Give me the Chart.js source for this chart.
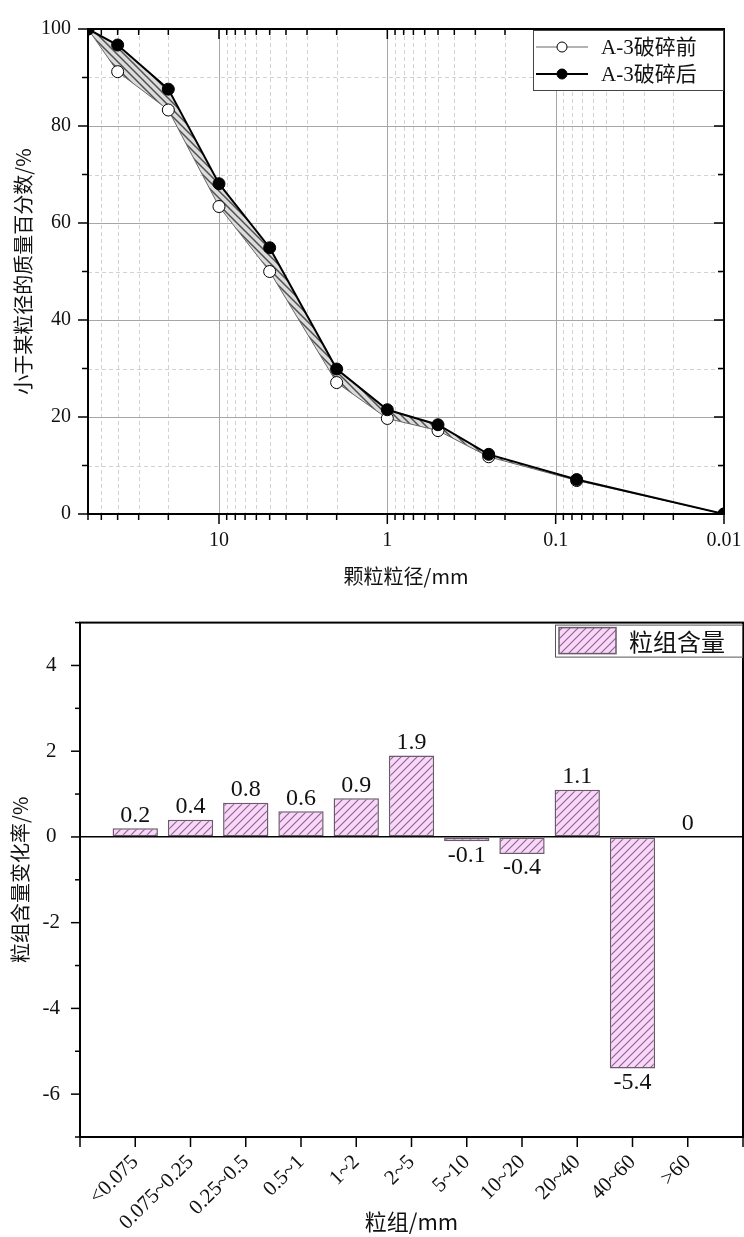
<!DOCTYPE html>
<html>
<head>
<meta charset="utf-8">
<script src="https://cdn.jsdelivr.net/npm/chart.js@4.4.0/dist/chart.umd.min.js"></script>
<style>
  html, body { margin: 0; padding: 0; background: #fff; }
  canvas { display: block; }
</style>
</head>
<body>
<canvas id="gradation" width="744" height="590"></canvas>
<canvas id="groupChange" width="744" height="647"></canvas>
<script>
// grading curve, % passing by particle size (mm)
const sizes = [60, 40, 20, 10, 5, 2, 1, 0.5, 0.25, 0.075, 0.01];
const passBefore = [100, 91.2, 83.3, 63.4, 50.0, 27.1, 19.7, 17.2, 11.8, 6.9, 0];
const passAfter = [100, 96.7, 87.6, 68.1, 54.9, 29.9, 21.5, 18.4, 12.3, 7.1, 0];

// change of each size group (%)
const groups = ['<0.075', '0.075~0.25', '0.25~0.5', '0.5~1', '1~2', '2~5', '5~10', '10~20', '20~40', '40~60', '>60'];
const changeRate = [0.2, 0.4, 0.8, 0.6, 0.9, 1.9, -0.1, -0.4, 1.1, -5.4, 0];

// axis ticks
const xMajor = [10, 1, 0.1, 0.01];
const xMinor = [];
[0.01, 0.1, 1, 10].forEach(d => {
    for (let k = 2; k <= 9; k++) if (d * k < 60) xMinor.push(+(d * k).toPrecision(3));
});
xMinor.push(60);
const yTicksTop = [0, 10, 20, 30, 40, 50, 60, 70, 80, 90, 100];
const yTicksBottom = [-7, -6, -5, -4, -3, -2, -1, 0, 1, 2, 3, 4, 5];

const SERIF = '"Liberation Serif", "Noto Sans CJK SC", serif';
const CJK = '"Noto Sans CJK SC", "Liberation Serif", sans-serif';
const TXT = '#111';

function hatch(ctx, bg, fg, step, lw, back) {
    const c = document.createElement('canvas');
    c.width = c.height = step;
    const g = c.getContext('2d');
    g.fillStyle = bg;
    g.fillRect(0, 0, step, step);
    g.strokeStyle = fg;
    g.lineWidth = lw;
    g.beginPath();
    if (back) {
        g.moveTo(-1, -1); g.lineTo(step + 1, step + 1);
        g.moveTo(-1, step - 1); g.lineTo(1, step + 1);
        g.moveTo(step - 1, -1); g.lineTo(step + 1, 1);
    } else {
        g.moveTo(-1, step + 1); g.lineTo(step + 1, -1);
        g.moveTo(-1, 1); g.lineTo(1, -1);
        g.moveTo(step - 1, step + 1); g.lineTo(step + 1, step - 1);
    }
    g.stroke();
    return ctx.createPattern(c, 'repeat');
}

function tick(ctx, x1, y1, x2, y2) {
    ctx.beginPath();
    ctx.moveTo(x1, y1);
    ctx.lineTo(x2, y2);
    ctx.stroke();
}

// keep the plot edges where the layout padding puts them
function noEdgePadding(s) {
    s.paddingLeft = 0;
    s.paddingRight = 0;
}

const topCtx = document.getElementById('gradation').getContext('2d');
const botCtx = document.getElementById('groupChange').getContext('2d');
const topHatch = hatch(topCtx, '#dcdcdc', '#505050', 7, 1.5, true);
const barHatch = hatch(botCtx, '#fbd6fb', '#8a6a8a', 8, 1.2, false);

const topDecor = {
    id: 'topDecor',
    beforeDraw(chart) {
        const { ctx, chartArea: a, scales: { x, y } } = chart;
        ctx.save();
        ctx.lineWidth = 1;
        ctx.strokeStyle = '#d2d2d2';
        ctx.setLineDash([4, 3]);
        xMinor.forEach(v => {
            const p = Math.round(x.getPixelForValue(v)) + 0.5;
            tick(ctx, p, a.top, p, a.bottom);
        });
        yTicksTop.filter(v => v % 20 !== 0).forEach(v => {
            const p = Math.round(y.getPixelForValue(v)) + 0.5;
            tick(ctx, a.left, p, a.right, p);
        });
        ctx.setLineDash([]);
        ctx.strokeStyle = '#a6a6a6';
        xMajor.forEach(v => {
            const p = Math.round(x.getPixelForValue(v)) + 0.5;
            tick(ctx, p, a.top, p, a.bottom);
        });
        yTicksTop.filter(v => v % 20 === 0).forEach(v => {
            const p = Math.round(y.getPixelForValue(v)) + 0.5;
            tick(ctx, a.left, p, a.right, p);
        });
        ctx.restore();
    },
    afterDraw(chart) {
        const { ctx, chartArea: a, scales: { x, y } } = chart;
        ctx.save();
        ctx.strokeStyle = '#000';
        ctx.lineWidth = 1.5;
        yTicksTop.forEach(v => {
            const p = y.getPixelForValue(v);
            const len = v % 20 === 0 ? 10 : 6;
            tick(ctx, a.left, p, a.left - len, p);
            tick(ctx, a.right, p, a.right - len, p);
        });
        xMajor.concat(xMinor).forEach(v => {
            const p = x.getPixelForValue(v);
            const len = xMajor.includes(v) ? 10 : 6;
            tick(ctx, p, a.bottom, p, a.bottom + len);
            tick(ctx, p, a.top, p, a.top + len);
        });
        ctx.lineWidth = 2;
        ctx.strokeRect(a.left, a.top, a.right - a.left, a.bottom - a.top);

        // legend box
        const w = 191, h = 61;
        const lx = a.right - w, ly = a.top + 1;
        ctx.fillStyle = '#fff';
        ctx.fillRect(lx, ly, w, h);
        ctx.lineWidth = 1;
        ctx.strokeStyle = '#444';
        ctx.strokeRect(lx + 0.5, ly + 0.5, w - 1, h - 1);
        const rows = [
            { text: 'A-3破碎前', line: '#666', lw: 1, fill: '#fff', y: ly + 17 },
            { text: 'A-3破碎后', line: '#000', lw: 2, fill: '#000', y: ly + 44 }
        ];
        rows.forEach(r => {
            ctx.strokeStyle = r.line;
            ctx.lineWidth = r.lw;
            tick(ctx, lx + 3, r.y, lx + 55, r.y);
            ctx.beginPath();
            ctx.arc(lx + 29, r.y, 5, 0, Math.PI * 2);
            ctx.fillStyle = r.fill;
            ctx.fill();
            ctx.strokeStyle = '#000';
            ctx.lineWidth = 1;
            ctx.stroke();
            ctx.fillStyle = TXT;
            ctx.font = '21px ' + SERIF;
            ctx.textBaseline = 'middle';
            ctx.textAlign = 'left';
            ctx.fillText(r.text, lx + 68, r.y + 1);
        });
        ctx.restore();
    }
};

new Chart(topCtx, {
    type: 'line',
    data: {
        datasets: [{
            label: 'A-3破碎后',
            data: sizes.map((s, i) => ({ x: s, y: passAfter[i] })),
            borderColor: '#000',
            borderWidth: 2,
            pointRadius: 6,
            pointBackgroundColor: '#000',
            pointBorderColor: '#000',
            pointBorderWidth: 1,
            fill: '+1',
            backgroundColor: topHatch,
            tension: 0
        }, {
            label: 'A-3破碎前',
            data: sizes.map((s, i) => ({ x: s, y: passBefore[i] })),
            borderColor: '#666',
            borderWidth: 1,
            pointRadius: 6,
            pointBackgroundColor: '#fff',
            pointBorderColor: '#000',
            pointBorderWidth: 1,
            fill: false,
            tension: 0
        }]
    },
    options: {
        responsive: false,
        animation: false,
        layout: { padding: { top: 18, right: 20, left: 0, bottom: 0 } },
        plugins: {
            legend: { display: false },
            tooltip: { enabled: false },
            filler: { drawTime: 'beforeDatasetsDraw' }
        },
        scales: {
            x: {
                type: 'logarithmic',
                min: 0.01,
                max: 60,
                reverse: true,
                grid: { drawOnChartArea: false, drawTicks: false, tickLength: 0 },
                border: { display: false },
                afterBuildTicks: s => { s.ticks = xMajor.map(v => ({ value: v })); },
                afterFit: s => { s.height = 76; noEdgePadding(s); },
                ticks: {
                    autoSkip: false,
                    maxRotation: 0,
                    padding: 15,
                    color: TXT,
                    font: { family: SERIF, size: 20 },
                    callback: v => String(v)
                },
                title: {
                    display: true,
                    text: '颗粒粒径/mm',
                    color: TXT,
                    font: { family: CJK, size: 20 },
                    padding: { top: 0, bottom: 2 }
                }
            },
            y: {
                min: 0,
                max: 100,
                grid: { drawOnChartArea: false, drawTicks: false, tickLength: 0 },
                border: { display: false },
                afterFit: s => { s.width = 88; },
                ticks: {
                    stepSize: 20,
                    padding: 17,
                    color: TXT,
                    font: { family: SERIF, size: 20 }
                },
                title: {
                    display: true,
                    text: '小于某粒径的质量百分数/%',
                    color: TXT,
                    font: { family: CJK, size: 20 },
                    padding: { top: 11, bottom: 0 }
                }
            }
        }
    },
    plugins: [topDecor]
});

const botDecor = {
    id: 'botDecor',
    afterDatasetsDraw(chart) {
        const { ctx } = chart;
        const meta = chart.getDatasetMeta(0);
        const vals = chart.data.datasets[0].data;
        ctx.save();
        ctx.fillStyle = TXT;
        ctx.font = '24px ' + SERIF;
        ctx.textAlign = 'center';
        meta.data.forEach((bar, i) => {
            const v = vals[i];
            if (v === null || v === undefined) return;
            if (v >= 0) {
                ctx.textBaseline = 'bottom';
                ctx.fillText(String(v), bar.x, bar.y - 1);
            } else {
                ctx.textBaseline = 'top';
                ctx.fillText(String(v), bar.x, bar.y + 2);
            }
        });
        ctx.restore();
    },
    afterDraw(chart) {
        const { ctx, chartArea: a, scales: { x, y } } = chart;
        ctx.save();
        ctx.strokeStyle = '#000';
        ctx.lineWidth = 1.5;
        yTicksBottom.forEach(v => {
            const p = y.getPixelForValue(v);
            const len = v % 2 === 0 ? 9 : 5;
            tick(ctx, a.left, p, a.left - len, p);
        });
        chart.data.labels.forEach((l, i) => {
            const p = x.getPixelForValue(i);
            tick(ctx, p, a.bottom, p, a.bottom + 10);
        });
        ctx.lineWidth = 2;
        ctx.strokeRect(a.left, a.top, a.right - a.left, a.bottom - a.top);

        // legend box
        const w = 188, h = 33;
        const lx = a.right - w, ly = a.top + 2;
        ctx.fillStyle = '#fff';
        ctx.fillRect(lx, ly, w, h);
        ctx.lineWidth = 1;
        ctx.strokeStyle = '#555';
        ctx.strokeRect(lx + 0.5, ly + 0.5, w - 1, h - 1);
        ctx.fillStyle = barHatch;
        ctx.fillRect(lx + 4, ly + 3, 57, 26);
        ctx.strokeStyle = '#6b5a6b';
        ctx.lineWidth = 1.5;
        ctx.strokeRect(lx + 4, ly + 3, 57, 26);
        ctx.fillStyle = TXT;
        ctx.font = '24px ' + CJK;
        ctx.textAlign = 'left';
        ctx.textBaseline = 'middle';
        ctx.fillText('粒组含量', lx + 74, ly + 17);
        ctx.restore();
    }
};

new Chart(botCtx, {
    type: 'bar',
    data: {
        labels: [''].concat(groups, ['']),
        datasets: [{
            label: '粒组含量',
            data: [null].concat(changeRate, [null]),
            backgroundColor: barHatch,
            borderColor: '#6b5a6b',
            borderWidth: 1.5,
            borderSkipped: false,
            barPercentage: 1,
            categoryPercentage: 0.82
        }]
    },
    options: {
        responsive: false,
        animation: false,
        layout: { padding: { top: 14, right: 1, left: 0, bottom: 0 } },
        plugins: {
            legend: { display: false },
            tooltip: { enabled: false }
        },
        scales: {
            x: {
                offset: false,
                grid: { drawOnChartArea: false, drawTicks: false, tickLength: 0 },
                border: { display: false },
                afterFit: s => { s.height = 100; noEdgePadding(s); },
                ticks: {
                    autoSkip: false,
                    minRotation: 45,
                    maxRotation: 45,
                    padding: 13,
                    color: TXT,
                    font: { family: SERIF, size: 21 }
                },
                title: {
                    display: true,
                    text: '粒组/mm',
                    color: TXT,
                    font: { family: CJK, size: 22 },
                    padding: { top: 0, bottom: 2 }
                }
            },
            y: {
                min: -7,
                max: 5,
                grid: {
                    drawTicks: false,
                    tickLength: 0,
                    lineWidth: 1.5,
                    color: c => (c.tick && c.tick.value === 0) ? '#000' : 'rgba(0,0,0,0)'
                },
                border: { display: false },
                afterFit: s => { s.width = 80; },
                ticks: {
                    stepSize: 1,
                    autoSkip: false,
                    padding: 20,
                    crossAlign: 'center',
                    color: TXT,
                    font: { family: SERIF, size: 21 },
                    callback: v => (v % 2 === 0 && v > -7 && v < 5) ? String(v) : ''
                },
                title: {
                    display: true,
                    text: '粒组含量变化率/%',
                    color: TXT,
                    font: { family: CJK, size: 20 },
                    padding: { top: 8, bottom: 0 }
                }
            }
        }
    },
    plugins: [botDecor]
});
</script>
</body>
</html>
